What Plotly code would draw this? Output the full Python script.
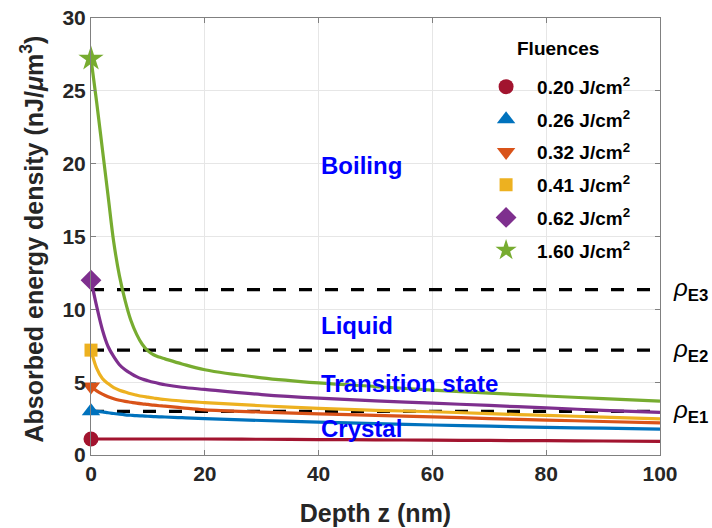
import plotly.graph_objects as go

# Depth samples (nm)
depth = [0, 1, 2, 3, 4, 5, 6, 7, 8, 9, 10, 11, 12, 13, 16, 20, 30, 40, 50, 60, 70, 80, 90, 100]

fluence_labels = ["0.20 J/cm<sup>2</sup>", "0.26 J/cm<sup>2</sup>", "0.32 J/cm<sup>2</sup>",
                  "0.41 J/cm<sup>2</sup>", "0.62 J/cm<sup>2</sup>", "1.60 J/cm<sup>2</sup>"]

e_020 = [1.10, 1.10, 1.10, 1.10, 1.10, 1.10, 1.10, 1.10, 1.10, 1.10, 1.10, 1.10, 1.10, 1.10, 1.10, 1.10, 1.08, 1.06, 1.04, 1.02, 1.00, 0.98, 0.96, 0.94]
e_026 = [3.00, 2.99, 2.96, 2.90, 2.85, 2.80, 2.76, 2.73, 2.70, 2.68, 2.66, 2.64, 2.62, 2.61, 2.56, 2.50, 2.37, 2.26, 2.16, 2.06, 1.98, 1.90, 1.84, 1.78]
e_032 = [4.70, 4.40, 4.18, 4.00, 3.86, 3.76, 3.68, 3.62, 3.56, 3.51, 3.47, 3.42, 3.38, 3.35, 3.24, 3.10, 2.95, 2.83, 2.72, 2.62, 2.50, 2.40, 2.30, 2.20]
e_041 = [7.20, 5.95, 5.25, 4.90, 4.62, 4.45, 4.32, 4.20, 4.11, 4.03, 3.97, 3.91, 3.85, 3.81, 3.70, 3.60, 3.38, 3.20, 3.07, 2.97, 2.84, 2.72, 2.60, 2.48]
e_062 = [12.0, 10.2, 8.60, 7.45, 6.75, 6.20, 5.85, 5.60, 5.38, 5.22, 5.10, 4.99, 4.90, 4.82, 4.65, 4.50, 4.15, 3.90, 3.72, 3.56, 3.40, 3.23, 3.07, 2.92]
e_160 = [27.2, 24.2, 21.0, 17.8, 14.6, 12.3, 10.6, 9.25, 8.30, 7.60, 7.15, 6.88, 6.72, 6.60, 6.25, 5.85, 5.30, 4.95, 4.70, 4.46, 4.25, 4.05, 3.87, 3.70]

series = [e_020, e_026, e_032, e_041, e_062, e_160]
colors = ["#A2142F", "#0072BD", "#D95319", "#EDB120", "#7E2F8E", "#77AC30"]
symbols = ["circle", "triangle-up", "triangle-down", "square", "diamond", "star"]
sizes = [15, 16, 16, 13, 16, 19]

# Threshold energy densities
rho_levels = [3.0, 7.2, 11.35]
rho_labels = ["<i>ρ</i><sub><b>E1</b></sub>", "<i>ρ</i><sub><b>E2</b></sub>", "<i>ρ</i><sub><b>E3</b></sub>"]

# Region labels
region_text = ["Boiling", "Liquid", "Transition state", "Crystal"]
region_x = [40, 40, 40, 40]
region_y = [19.9, 8.9, 4.9, 1.85]

x_ticks = [0, 20, 40, 60, 80, 100]
y_ticks = [0, 5, 10, 15, 20, 25, 30]

FONT = "Liberation Sans, Arial, sans-serif"

fig = go.Figure()

for lvl in rho_levels:
    fig.add_trace(go.Scatter(x=[0, 100], y=[lvl, lvl], mode="lines",
                             line=dict(color="black", width=3.3, dash="13px,13px"),
                             showlegend=False, hoverinfo="skip"))

for i, ys in enumerate(series):
    fig.add_trace(go.Scatter(x=depth, y=ys, mode="lines",
                             line=dict(color=colors[i], width=3.2, shape="spline", smoothing=1.0),
                             showlegend=False, hoverinfo="skip"))

for i, ys in enumerate(series):
    fig.add_trace(go.Scatter(x=[depth[0]], y=[ys[0]], mode="markers", name="<b>" + fluence_labels[i] + "</b>",
                             marker=dict(symbol=symbols[i], color=colors[i], size=sizes[i], line=dict(width=0)),
                             cliponaxis=False, legendgroup=str(i)))

for t, x, y in zip(region_text, region_x, region_y):
    fig.add_annotation(x=x, y=y, text="<b>" + t + "</b>", showarrow=False, xanchor="left", yanchor="middle",
                       font=dict(family=FONT, size=24, color="#0000FF"))

for lvl, lab in zip(rho_levels, rho_labels):
    fig.add_annotation(x=1.02, xref="paper", y=lvl, yref="y", text=lab, showarrow=False,
                       xanchor="left", yanchor="middle",
                       font=dict(family=FONT, size=24, color="#000000"))

# Legend title
fig.add_annotation(x=0.82, xref="paper", y=0.931, yref="paper", text="<b>Fluences</b>", showarrow=False,
                   xanchor="center", yanchor="middle", font=dict(family=FONT, size=19, color="black"))

# Y axis title
fig.add_annotation(x=0, xref="paper", xshift=-59, y=0.493, yref="paper",
                   text="<b>Absorbed energy density (nJ/<i>μ</i>m<sup>3</sup>)</b>", textangle=-90,
                   showarrow=False, xanchor="center", yanchor="middle",
                   font=dict(family=FONT, size=25, color="#262626"))

axis_common = dict(showline=True, linecolor="#808080", linewidth=1, mirror="ticks", ticks="inside",
                   ticklen=5, tickcolor="#808080", showgrid=True, gridcolor="#E6E6E6", gridwidth=1,
                   zeroline=False, automargin=False,
                   tickfont=dict(family=FONT, size=21, color="#262626"))

fig.update_xaxes(range=[0, 100], tickvals=x_ticks,
                 ticktext=["<b>%d</b>" % v for v in x_ticks],
                 title=dict(text="<b>Depth z (nm)</b>", font=dict(family=FONT, size=25, color="#262626"), standoff=20),
                 **axis_common)
fig.update_yaxes(range=[0, 30], tickvals=y_ticks,
                 ticktext=["<b>%d</b>" % v for v in y_ticks],
                 **axis_common)

fig.update_layout(
    width=712, height=528,
    margin=dict(l=91, r=52, t=18, b=73),
    plot_bgcolor="white", paper_bgcolor="white",
    legend=dict(x=0.675, y=0.886, xanchor="left", yanchor="top", bgcolor="rgba(255,255,255,0)",
                font=dict(family=FONT, size=19, color="black"),
                tracegroupgap=5, itemwidth=52),
)

fig.write_html("out.html", config={"displayModeBar": False},
               post_script="document.body.style.margin='0';")
